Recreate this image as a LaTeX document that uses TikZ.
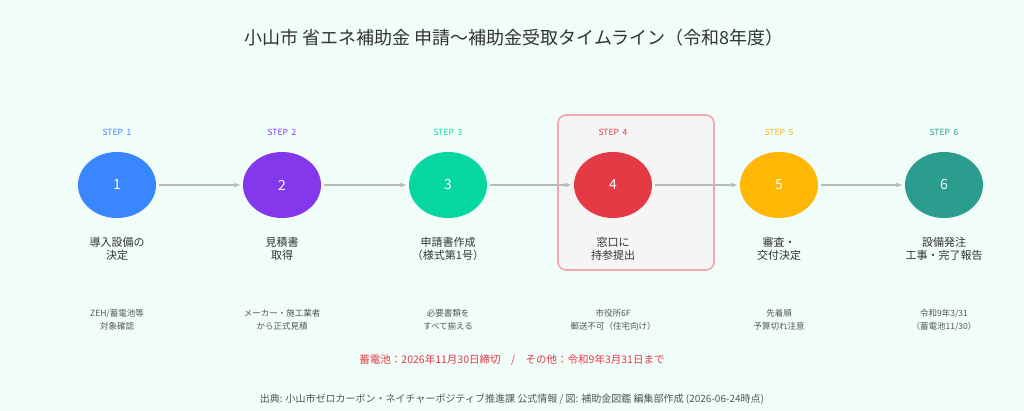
\documentclass[tikz,border=0pt]{standalone}
\usepackage{fontspec}
\setmainfont{Noto Sans CJK JP}
\usetikzlibrary{arrows.meta,shapes.geometric}
\definecolor{bg}{HTML}{F0FDF9}
\definecolor{c1}{HTML}{3A86FF}
\definecolor{c2}{HTML}{8338EC}
\definecolor{c3}{HTML}{06D6A0}
\definecolor{c4}{HTML}{E63946}
\definecolor{c5}{HTML}{FFB703}
\definecolor{c6}{HTML}{2A9D8F}
\definecolor{txt}{HTML}{333333}
\definecolor{sub}{HTML}{555555}
\begin{document}
\begin{tikzpicture}[x=1pt,y=-1pt,
  stp/.style={ellipse,minimum width=78pt,minimum height=66pt,inner sep=0pt,text=white,font=\fontsize{14}{14}\selectfont},
  steplab/.style={font=\fontsize{8.5}{9}\selectfont},
  lab/.style={align=center,text=txt,font=\fontsize{11}{13}\selectfont},
  note/.style={align=center,text=sub,font=\fontsize{8.5}{13.5}\selectfont},
  arr/.style={-{Stealth[length=6pt,width=5pt]},draw=gray!55,line width=1.6pt}]
\fill[bg] (0,0) rectangle (1024,411);
\useasboundingbox (0,0) rectangle (1024,411);
\node[font=\fontsize{18}{18}\selectfont,text=txt] (title) at (514,38) {小山市 省エネ補助金 申請〜補助金受取タイムライン（令和8年度）};
\node[draw=c4!45,line width=1.6pt,fill=black!4,rounded corners=8pt,minimum width=156pt,minimum height=155pt] (hl) at (636,192.5) {};
\foreach \i/\x/\c/\l/\n in {
 1/117/c1/{導入設備の\\決定}/{ZEH/蓄電池等\\対象確認},
 2/282/c2/{見積書\\取得}/{メーカー・施工業者\\から正式見積},
 3/448/c3/{申請書作成\\（様式第1号）}/{必要書類を\\すべて揃える},
 4/613/c4/{窓口に\\持参提出}/{市役所6F\\郵送不可（住宅向け）},
 5/779/c5/{審査・\\交付決定}/{先着順\\予算切れ注意},
 6/944/c6/{設備発注\\工事・完了報告}/{令和9年3/31\\（蓄電池11/30）}}{
 \node[stp,fill=\c] (s\i) at (\x,185) {\i};
 \node[steplab,text=\c] (t\i) at (\x,132) {STEP\ \ \i};
 \node[lab] (l\i) at (\x,249) {\l};
 \node[note] (n\i) at (\x,320) {\n};
}
\foreach \a/\b in {1/2,2/3,3/4,4/5,5/6}{\draw[arr] ([xshift=3pt]s\a.east) -- ([xshift=-3pt]s\b.west);}
\node[text=c4,font=\fontsize{10.5}{11}\selectfont] (dl) at (512,360) {蓄電池：2026年11月30日締切\quad/\quad その他：令和9年3月31日まで};
\node[text=sub,font=\fontsize{10}{10}\selectfont] (src) at (512,399) {出典: 小山市ゼロカーボン・ネイチャーポジティブ推進課 公式情報 / 図: 補助金図鑑 編集部作成 (2026-06-24時点)};
\end{tikzpicture}
\end{document}
